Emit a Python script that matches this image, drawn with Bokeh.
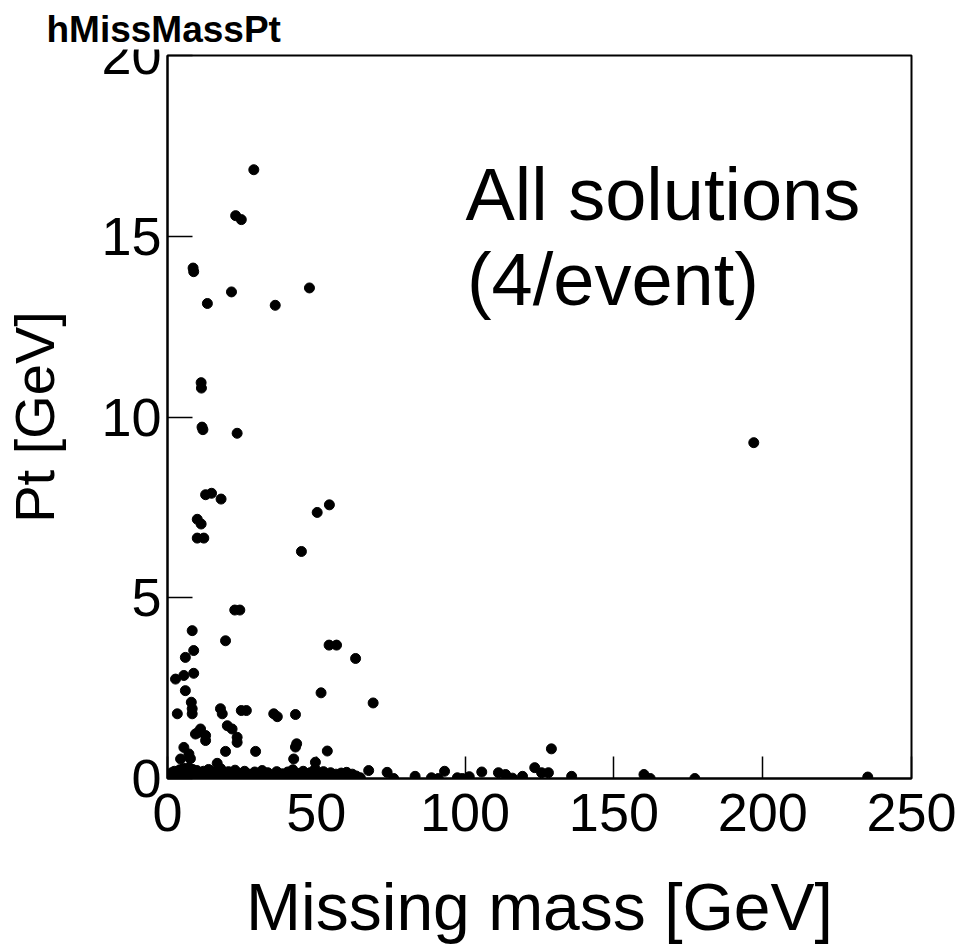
from bokeh.plotting import figure
from bokeh.models import Label, FixedTicker, Range1d
from bokeh.embed import file_html
from bokeh.resources import INLINE

# ---- data ----
# scattered solutions (missing mass [GeV], Pt [GeV])
mass_pts = [29.0, 22.9, 24.8, 8.6, 8.8, 13.4, 21.5, 36.2, 47.7,
            11.3, 11.4, 11.6, 11.9, 23.4, 12.8, 14.8, 18.0, 10.0, 11.3, 10.0, 12.2, 45.0, 50.3, 54.4,
            197.0,
            22.6, 24.3, 8.3, 19.5, 8.8, 6.0, 54.3, 56.8, 63.2,
            2.7, 5.5, 8.8, 6.0, 51.6, 69.1, 8.0, 8.3, 3.3, 8.3, 17.8, 18.4, 24.8, 26.5, 35.7, 36.9, 43.0,
            11.1, 9.4, 10.0, 12.8, 12.8, 20.1, 21.7, 23.4, 23.4,
            5.5, 7.2, 7.7, 4.4, 19.5, 29.6, 43.4, 43.0, 42.4, 53.7, 49.7, 16.7, 67.6, 73.8, 76.0,
            83.2, 88.7, 91.0, 93.1, 97.4, 99.1, 101.4, 105.6, 111.2, 113.6, 115.9, 119.3,
            123.4, 125.7, 128.0, 129.0, 135.8, 160.1, 162.2, 177.2, 235.3]
pt_pts = [16.84, 15.57, 15.46, 14.12, 14.02, 13.14, 13.46, 13.09, 13.57,
          10.95, 10.8, 9.72, 9.65, 9.55, 7.85, 7.89, 7.73, 7.17, 7.04, 6.65, 6.65, 6.28, 7.36, 7.57,
          9.29,
          4.66, 4.66, 4.09, 3.81, 3.54, 3.35, 3.69, 3.69, 3.32,
          2.75, 2.85, 2.91, 2.43, 2.37, 2.09, 2.11, 1.93, 1.79, 1.79, 1.93, 1.79, 1.88, 1.88, 1.79, 1.71, 1.77,
          1.37, 1.23, 1.26, 1.19, 1.05, 1.46, 1.37, 1.14, 1.0,
          0.86, 0.68, 0.55, 0.54, 0.75, 0.75, 0.96, 0.87, 0.54, 0.76, 0.45, 0.42, 0.22, 0.17, 0.0,
          0.06, 0.02, 0.0, 0.2, 0.02, 0.0, 0.05, 0.18, 0.16, 0.11, 0.01, 0.06,
          0.3, 0.16, 0.16, 0.82, 0.06, 0.11, 0.0, 0.0, 0.04]

# dense band of solutions near Pt = 0
mass_band = [0.3, 0.9, 1.4, 1.8, 2.3, 2.9, 3.2, 3.7, 4.1, 4.6, 5.0, 5.4, 5.9, 6.3, 6.8, 7.1, 7.6, 8.1, 8.5,
             9.0, 9.4, 9.9, 10.3, 10.8, 11.2, 11.7, 12.1, 12.7, 13.2, 13.8, 14.3, 14.9, 15.5, 16.0, 16.6,
             17.3, 17.9, 18.6, 19.2, 19.9, 20.5, 21.2, 21.9, 22.7, 23.4, 24.2, 25.0, 25.9, 26.7, 27.4,
             28.4, 29.3, 30.0, 31.1, 31.8, 32.9, 33.7, 34.9, 35.6, 36.7, 37.5, 38.6, 39.3, 40.4, 41.1,
             42.1, 42.8, 43.9, 44.5, 45.6, 46.2, 47.3, 47.9, 49.0, 49.6, 50.7, 51.3, 52.4, 53.0, 54.1,
             54.8, 55.9, 56.6, 57.7, 58.4, 59.5, 60.2, 61.3, 62.1, 63.4, 64.8]
pt_band = [0.1, 0.02, 0.16, 0.05, 0.2, 0.0, 0.12, 0.04, 0.24, 0.07, 0.17, 0.28, 0.03, 0.14, 0.21, 0.3,
           0.06, 0.18, 0.25, 0.02, 0.11, 0.22, 0.05, 0.15, 0.0, 0.09, 0.2, 0.04, 0.12, 0.25, 0.06, 0.17,
           0.02, 0.11, 0.21, 0.07, 0.27, 0.03, 0.15, 0.05, 0.19, 0.0, 0.11, 0.23, 0.04, 0.14, 0.06, 0.2,
           0.02, 0.12, 0.07, 0.18, 0.03, 0.11, 0.22, 0.05, 0.16, 0.01, 0.09, 0.19, 0.04, 0.13, 0.06, 0.18,
           0.02, 0.24, 0.07, 0.14, 0.03, 0.2, 0.05, 0.11, 0.16, 0.01, 0.26, 0.06, 0.13, 0.19, 0.03, 0.09,
           0.16, 0.05, 0.12, 0.02, 0.15, 0.06, 0.17, 0.04, 0.12, 0.07, 0.02]

x_ticks = [0, 50, 100, 150, 200, 250]
y_ticks = [0, 5, 10, 15, 20]

title_text = "hMissMassPt"
x_title = "Missing mass [GeV]"
y_title = "Pt [GeV]"
note_lines = ["All solutions", "(4/event)"]

FONT = "Liberation Sans"

p = figure(width=958, height=946, output_backend="svg", toolbar_location=None,
           x_range=Range1d(0, 250), y_range=Range1d(0, 20),
           min_border_left=167, min_border_right=47, min_border_top=54, min_border_bottom=168,
           title=title_text)

p.background_fill_color = "white"
p.border_fill_color = "white"
p.outline_line_color = "black"
p.outline_line_width = 2
p.grid.visible = False

p.title.text_font = FONT
p.title.text_font_style = "bold"
p.title.text_font_size = "37px"
p.title.text_color = "black"
p.title.align = "left"
p.title.offset = -121
p.title.standoff = 12
p.title.background_fill_color = "white"
p.title.background_fill_alpha = 1.0

for ax in (p.xaxis[0], p.yaxis[0]):
    ax.axis_line_color = "black"
    ax.axis_line_width = 2
    ax.major_tick_out = 0
    ax.major_tick_line_color = "black"
    ax.major_tick_line_width = 1.5
    ax.minor_tick_line_color = None
    ax.major_label_text_font = FONT
    ax.major_label_text_font_size = "54px"
    ax.major_label_text_color = "black"
    ax.axis_label_text_font = FONT
    ax.axis_label_text_font_style = "normal"
    ax.axis_label_text_color = "black"

p.xaxis[0].ticker = FixedTicker(ticks=x_ticks)
p.yaxis[0].ticker = FixedTicker(ticks=y_ticks)
p.xaxis[0].major_tick_in = 22
p.yaxis[0].major_tick_in = 25
p.xaxis[0].major_label_standoff = 15
p.yaxis[0].major_label_standoff = 6

p.xaxis[0].axis_label = x_title
p.xaxis[0].axis_label_text_font_size = "66px"
p.xaxis[0].axis_label_standoff = 36
p.yaxis[0].axis_label = y_title
p.yaxis[0].axis_label_text_font_size = "56px"
p.yaxis[0].axis_label_standoff = 32

p.scatter(mass_band, pt_band, marker="circle", size=10, color="black")
p.scatter(mass_pts, pt_pts, marker="circle", size=10, color="black")

p.add_layout(Label(x=100.1, y=16.15, text=note_lines[0], text_font=FONT, text_font_size="74px",
                   text_align="left", text_baseline="alphabetic", text_color="black"))
p.add_layout(Label(x=100.6, y=13.8, text=note_lines[1], text_font=FONT, text_font_size="74px",
                   text_align="left", text_baseline="alphabetic", text_color="black"))

open("out.html", "w").write(file_html(p, INLINE))
